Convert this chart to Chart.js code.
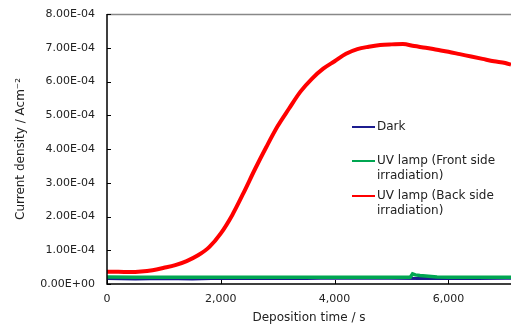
<!DOCTYPE html>
<html lang="en">
<head>
  <meta charset="UTF-8">
  <title>Deposition current</title>
  <script src="https://cdn.jsdelivr.net/npm/chart.js"></script>
  <style>
    body { margin: 0; background: #fff; }
    #wrap { position: relative; width: 511px; height: 329px; }
    canvas { display: block; }
    #legend { position: absolute; left: 352px; top: 119px; font: 12px "DejaVu Sans", Verdana, sans-serif; color: #222; }
    .legend-item { position: absolute; left: 0; display: flex; align-items: flex-start; white-space: nowrap; line-height: 15px; }
    .legend-color { width: 23px; height: 2px; margin-top: 7px; margin-right: 2px; }
  </style>
</head>
<body>
  <div id="wrap">
    <canvas id="myChart" width="511" height="329"></canvas>
    <div id="legend">
      <div class="legend-item" style="top:0px"><div class="legend-color" style="background:#1c1c8f"></div><div>Dark</div></div>
      <div class="legend-item" style="top:34px"><div class="legend-color" style="background:#00a651"></div><div>UV lamp (Front side<br>irradiation)</div></div>
      <div class="legend-item" style="top:69px"><div class="legend-color" style="background:#ff0000"></div><div>UV lamp (Back side<br>irradiation)</div></div>
    </div>
  </div>

  <script>
    // time in s, current in 1e-4 A/cm2
    const backTimes = [0, 200, 400, 600, 800, 1000, 1200, 1400, 1600, 1800, 2000, 2200, 2400, 2600, 2800, 3000, 3200, 3400, 3600, 3800, 4000, 4200, 4400, 4600, 4800, 5000, 5200, 5400, 5600, 5800, 6000, 6200, 6400, 6600, 6800, 7000, 7100];
    const backValues = [0.36, 0.36, 0.355, 0.37, 0.41, 0.48, 0.56, 0.68, 0.85, 1.1, 1.5, 2.04, 2.7, 3.4, 4.06, 4.68, 5.2, 5.7, 6.08, 6.38, 6.6, 6.82, 6.96, 7.03, 7.08, 7.1, 7.11, 7.05, 7.0, 6.94, 6.88, 6.81, 6.74, 6.67, 6.6, 6.55, 6.5];

    const frontTimes = [0, 500, 1000, 1500, 2000, 2500, 3000, 3500, 4000, 4500, 5000, 5330, 5370, 5420, 5500, 5650, 5800, 6000, 6500, 7000, 7100];
    const frontValues = [0.21, 0.2, 0.2, 0.2, 0.2, 0.2, 0.2, 0.2, 0.2, 0.2, 0.2, 0.2, 0.3, 0.27, 0.25, 0.23, 0.21, 0.2, 0.2, 0.2, 0.2];

    const darkTimes = [0, 500, 1000, 1500, 2000, 2500, 3000, 3500, 4000, 4500, 5000, 5500, 6000, 6500, 7000, 7100];
    const darkValues = [0.16, 0.15, 0.16, 0.15, 0.17, 0.16, 0.17, 0.16, 0.18, 0.17, 0.17, 0.16, 0.17, 0.16, 0.17, 0.17];

    const xTicks = [0, 2000, 4000, 6000];
    const yTicks = [0, 1e-4, 2e-4, 3e-4, 4e-4, 5e-4, 6e-4, 7e-4, 8e-4];

    const toPoints = (xs, ys) => xs.map((x, i) => ({ x: x, y: ys[i] * 1e-4 }));

    function sciLabel(v) {
      if (v === 0) return '0.00E+00';
      const s = v.toExponential(2).toUpperCase();
      const parts = s.split('E');
      let exp = parseInt(parts[1]);
      const sign = exp < 0 ? '-' : '+';
      exp = Math.abs(exp);
      return parts[0] + 'E' + sign + (exp < 10 ? '0' + exp : exp);
    }

    const font = "'DejaVu Sans', Verdana, sans-serif";

    // inward tick marks and grey top border
    const frame = {
      id: 'frame',
      afterDatasetsDraw(chart) {
        const c = chart.ctx, a = chart.chartArea;
        const xs = chart.scales.x, ys = chart.scales.y;
        c.save();
        c.strokeStyle = '#888';
        c.lineWidth = 1.5;
        c.beginPath();
        c.moveTo(a.left, a.top + 0.5);
        c.lineTo(a.right, a.top + 0.5);
        c.stroke();
        c.strokeStyle = '#000';
        c.lineWidth = 1.5;
        c.beginPath();
        c.moveTo(a.left, a.top);
        c.lineTo(a.left, a.bottom);
        c.lineTo(a.right, a.bottom);
        c.stroke();
        c.lineWidth = 1;
        c.beginPath();
        yTicks.forEach(v => {
          const p = Math.round(ys.getPixelForValue(v)) + 0.5;
          c.moveTo(a.left, p);
          c.lineTo(a.left + 4, p);
        });
        xTicks.forEach(v => {
          const p = Math.round(xs.getPixelForValue(v)) + 0.5;
          c.moveTo(p, a.bottom);
          c.lineTo(p, a.bottom - 4);
        });
        c.stroke();
        c.restore();
      }
    };

    const ctx = document.getElementById('myChart').getContext('2d');
    const myChart = new Chart(ctx, {
      type: 'line',
      data: {
        datasets: [
          { label: 'UV lamp (Back side irradiation)', data: toPoints(backTimes, backValues), borderColor: '#ff0000', borderWidth: 4, pointRadius: 0, cubicInterpolationMode: 'monotone' },
          { label: 'UV lamp (Front side irradiation)', data: toPoints(frontTimes, frontValues), borderColor: '#00a651', borderWidth: 3.5, pointRadius: 0, tension: 0 },
          { label: 'Dark', data: toPoints(darkTimes, darkValues), borderColor: '#1c1c8f', borderWidth: 3, pointRadius: 0, tension: 0 }
        ]
      },
      options: {
        responsive: false,
        animation: false,
        layout: { padding: { top: 14, right: 0, left: 0, bottom: 0 } },
        plugins: { legend: { display: false }, tooltip: { enabled: false } },
        scales: {
          x: {
            type: 'linear',
            min: 0,
            max: 7100,
            afterBuildTicks: s => { s.ticks = xTicks.map(v => ({ value: v })); },
            afterFit: s => { s.height = 45; s.paddingLeft = 0; s.paddingRight = 0; },
            grid: { display: false, drawTicks: false },
            border: { display: false },
            ticks: { color: '#222', font: { family: font, size: 11 }, padding: 9, maxRotation: 0 },
            title: { display: true, text: 'Deposition time / s', color: '#222', font: { family: font, size: 12 }, padding: { top: 2 } }
          },
          y: {
            min: 0,
            max: 8e-4,
            afterBuildTicks: s => { s.ticks = yTicks.map(v => ({ value: v })); },
            afterFit: s => { s.width = 107; s.paddingTop = 0; s.paddingBottom = 0; },
            grid: { display: false, drawTicks: false },
            border: { display: false },
            ticks: { color: '#222', font: { family: font, size: 11 }, padding: 12, callback: v => sciLabel(v) },
            title: { display: true, text: 'Current density / Acm⁻²', color: '#222', font: { family: font, size: 12 }, padding: { top: 14, bottom: 4 } }
          }
        }
      },
      plugins: [frame]
    });
  </script>
</body>
</html>
